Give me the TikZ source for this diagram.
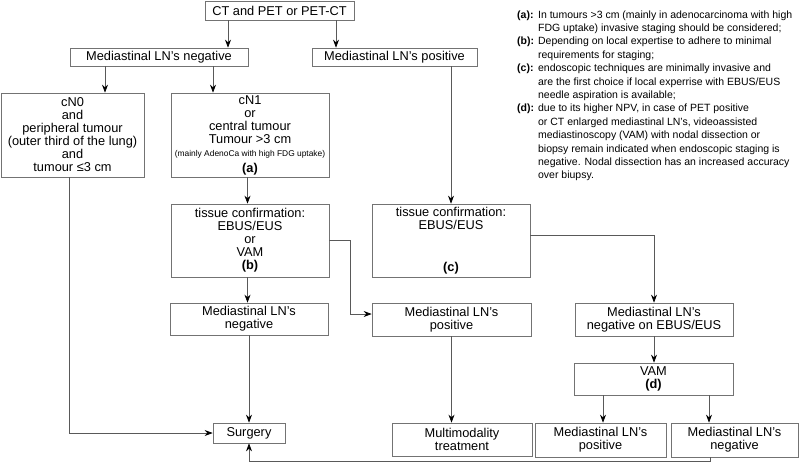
\documentclass[tikz,border=0pt]{standalone}
\usepackage{fontspec}
\setmainfont{Liberation Sans}
\usetikzlibrary{arrows.meta}
\newcommand{\boxfont}{\fontsize{12.8}{13}\selectfont}
\newcommand{\tinyfont}{\fontsize{8.4}{9}\selectfont}
\newcommand{\notefont}{\fontsize{10.5}{13.4}\selectfont}
\begin{document}
\begin{tikzpicture}[x=1pt, y=-1pt,
	box/.style={draw=black!55, line width=0.7pt, align=center, inner sep=0pt, font=\boxfont},
	wire/.style={draw=black!65, line width=0.7pt, -{Stealth[length=8pt, width=6pt, black]}}]
	\useasboundingbox (0, 0) rectangle (799, 463);
	% Boxes:
	\node[box, minimum width=149, minimum height=19](N1) at (279.5, 10.5){CT and PET or PET-CT};
	\node[box, minimum width=178, minimum height=18](N2) at (159, 57){Mediastinal LN’s negative};
	\node[box, minimum width=165, minimum height=18](N3) at (394.5, 57){Mediastinal LN’s positive};
	\node[box, minimum width=143, minimum height=84](N4) at (72.5, 135){cN0\\and\\peripheral tumour\\(outer third of the lung)\\and\\tumour ≤3 cm};
	\node[box, minimum width=158, minimum height=84](N5) at (250, 135){cN1\\or\\central tumour\\Tumour >3 cm\\{\tinyfont (mainly AdenoCa with high FDG uptake)}\\[3pt]\textbf{(a)}};
	\node[box, minimum width=158, minimum height=73](N6) at (250, 240.5){tissue confirmation:\\EBUS/EUS\\or\\VAM\\\textbf{(b)}};
	\node[box, minimum width=158, minimum height=73](N7) at (451, 240.5){tissue confirmation:\\EBUS/EUS\\[29pt]\textbf{(c)}};
	\node[box, minimum width=158, minimum height=32](N8) at (249, 319){Mediastinal LN’s\\negative};
	\node[box, minimum width=159, minimum height=33](N9) at (451.5, 319.5){Mediastinal LN’s\\positive};
	\node[box, minimum width=158, minimum height=33](N10) at (654, 319.5){Mediastinal LN’s\\negative on EBUS/EUS};
	\node[box, minimum width=159, minimum height=32](N11) at (653.5, 379){VAM\\\textbf{(d)}};
	\node[box, minimum width=140, minimum height=33](N12) at (462, 439.5){Multimodality\\treatment};
	\node[box, minimum width=131, minimum height=34](N13) at (600.5, 440){Mediastinal LN’s\\positive};
	\node[box, minimum width=127, minimum height=34](N14) at (734.5, 440){Mediastinal LN’s\\negative};
	\node[box, minimum width=72, minimum height=20](N15) at (249, 433){Surgery};
	\coordinate (C1) at (0, 461);
	% Notes:
	\node[anchor=north west, inner sep=0pt, font=\notefont](N16) at (517, 8.5){%
		\begin{tabular}{@{}l@{\hspace{4pt}}l@{}}
			\textbf{(a):} & In tumours >3 cm (mainly in adenocarcinoma with high\\
			& FDG uptake) invasive staging should be considered;\\
			\textbf{(b):} & Depending on local expertise to adhere to minimal\\
			& requirements for staging;\\
			\textbf{(c):} & endoscopic techniques are minimally invasive and\\
			& are the first choice if local experrise with EBUS/EUS\\
			& needle aspiration is available;\\
			\textbf{(d):} & due to its higher NPV, in case of PET positive\\
			& or CT enlarged mediastinal LN’s, videoassisted\\
			& mediastinoscopy (VAM) with nodal dissection or\\
			& biopsy remain indicated when endoscopic staging is\\
			& negative. Nodal dissection has an increased accuracy\\
			& over biupsy.
		\end{tabular}};
	% Connectors:
	\draw[wire] ([xshift=-51.5pt]N1.south) -- ([xshift=-51.5pt]N1.south |- N2.north);
	\draw[wire] ([xshift=56.5pt]N1.south) -- ([xshift=56.5pt]N1.south |- N3.north);
	\draw[wire] ([xshift=-54pt]N2.south) -- ([xshift=-54pt]N2.south |- N4.north);
	\draw[wire] ([xshift=54pt]N2.south) -- ([xshift=54pt]N2.south |- N5.north);
	\draw[wire] ([xshift=-2.5pt]N5.south) -- ([xshift=-2.5pt]N6.north);
	\draw[wire] (N7.north |- N3.south) -- (N7.north);
	\draw[wire] ([xshift=-2.5pt]N6.south) -- ([xshift=-1.5pt]N8.north);
	\draw[wire] (N6.east) -- ++(21, 0) |- ([yshift=5.5pt]N9.west);
	\draw[wire] ([yshift=5.5pt]N7.east) -| (N10.north);
	\draw[wire] (N9.south) -- (N9.south |- N12.north);
	\draw[wire] (N10.south) -- (N10.south |- N11.north);
	\draw[wire] ([xshift=-50.5pt]N11.south) -- ([xshift=-50.5pt]N11.south |- N13.north);
	\draw[wire] ([xshift=55.5pt]N11.south) -- ([xshift=55.5pt]N11.south |- N14.north);
	\draw[wire] ([xshift=-3.5pt]N4.south) |- (N15.west);
	\draw[wire] (N8.south) -- (N15.north);
	\draw[wire] ([xshift=-24.5pt]N14.south) |- (C1 -| N15.south) -- (N15.south);
\end{tikzpicture}
\end{document}
